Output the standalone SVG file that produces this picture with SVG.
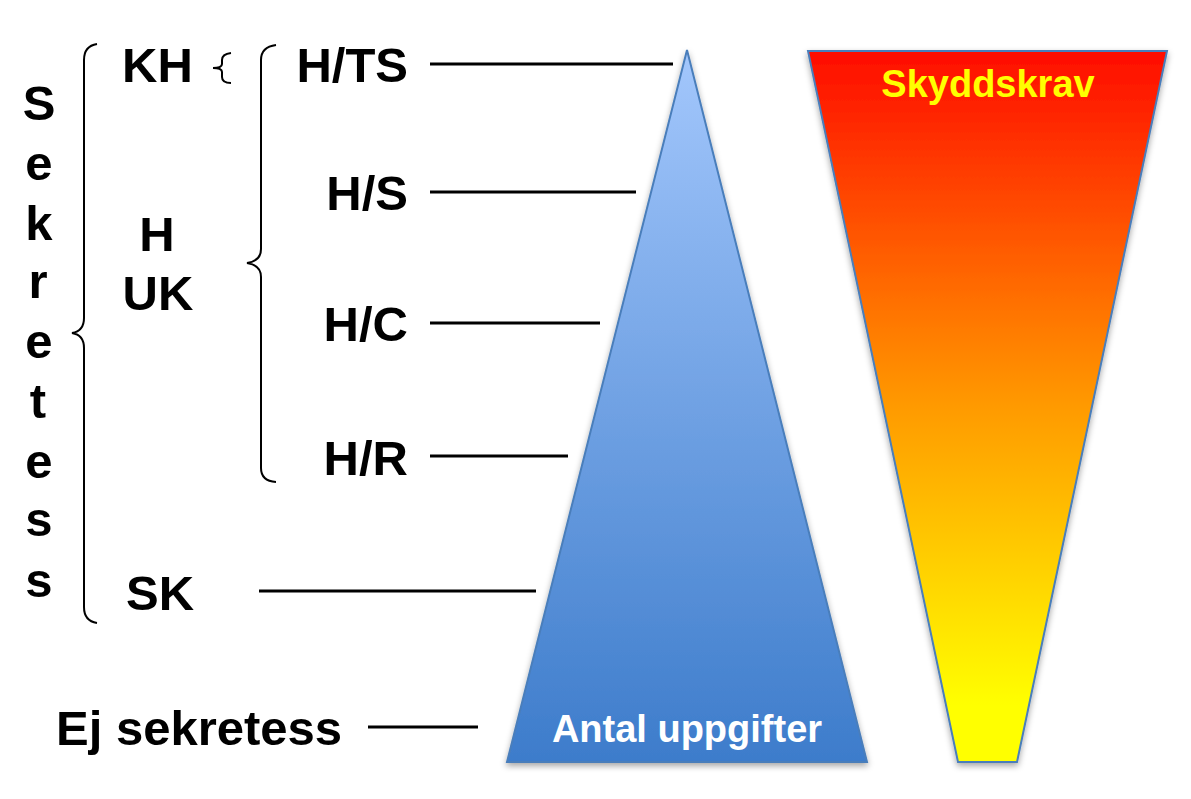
<svg xmlns="http://www.w3.org/2000/svg" width="1191" height="799" viewBox="0 0 1191 799">
<defs>
<linearGradient id="blueGrad" x1="0" y1="50" x2="0" y2="762" gradientUnits="userSpaceOnUse">
<stop offset="0" stop-color="#A3C7FC"/>
<stop offset="1" stop-color="#3D7CCB"/>
</linearGradient>
<linearGradient id="fireGrad" x1="0" y1="51" x2="0" y2="762" gradientUnits="userSpaceOnUse">
<stop offset="0" stop-color="#FF0C00"/>
<stop offset="0.5" stop-color="#FF9A00"/>
<stop offset="0.92" stop-color="#FFFF00"/>
<stop offset="1" stop-color="#FFFF00"/>
</linearGradient>
<filter id="shadow" x="-10%" y="-10%" width="120%" height="120%">
<feDropShadow dx="0" dy="3" stdDeviation="3" flood-color="#000" flood-opacity="0.35"/>
</filter>
</defs>
<style>
.lbl{font-family:"Liberation Sans",Arial,sans-serif;font-weight:bold;font-size:49px;fill:#000}
.v{text-anchor:middle}
.inner{font-family:"Liberation Sans",Arial,sans-serif;font-weight:bold;font-size:38px}
.lead{stroke:#000;stroke-width:3.2;fill:none}
.brace{stroke:#000;stroke-width:2;fill:none}
.shape{stroke:#4A7EBB;stroke-width:2;stroke-linejoin:miter}
</style>
<rect width="1191" height="799" fill="#fff"/>

<g id="pyramid">
<polygon class="shape" points="687,50 867,762 507,762" fill="url(#blueGrad)" filter="url(#shadow)"/>
<text class="inner" x="687" y="742" text-anchor="middle" fill="#fff">Antal uppgifter</text>
</g>

<g id="skyddskrav">
<polygon class="shape" points="808,51 1167,51 1017,762 958,762" fill="url(#fireGrad)" filter="url(#shadow)"/>
<text class="inner" x="988" y="97" text-anchor="middle" fill="#FFFF00">Skyddskrav</text>
</g>

<g id="sekretess">
<text class="lbl v" x="39" y="120">S</text>
<text class="lbl v" x="39" y="180">e</text>
<text class="lbl v" x="39" y="240">k</text>
<text class="lbl v" x="38" y="298">r</text>
<text class="lbl v" x="39" y="358">e</text>
<text class="lbl v" x="38" y="418">t</text>
<text class="lbl v" x="39" y="478">e</text>
<text class="lbl v" x="39" y="536">s</text>
<text class="lbl v" x="39" y="597">s</text>
</g>

<g id="brace-sekretess">
<path class="brace" d="M97,44 Q84,46 84,60 L84,318 Q84,331 72,333 Q84,335 84,348 L84,607 Q84,621 97,623"/>
</g>

<g id="kh">
<text class="lbl" x="122" y="82">KH</text>
<path class="brace" d="M231,53 Q222,54 222,60 L222,64 Q222,68 213,68 Q222,68 222,72 L222,77 Q222,83 231,83"/>
</g>

<g id="h-uk">
<text class="lbl" x="157" y="251" text-anchor="middle">H</text>
<text class="lbl" x="158" y="310" text-anchor="middle">UK</text>
</g>

<g id="brace-h">
<path class="brace" d="M276,45 Q261,47 261,60 L261,249 Q261,261 247,263 Q261,265 261,277 L261,468 Q261,481 276,482"/>
</g>

<g id="hts"><text class="lbl" x="408" y="82" text-anchor="end">H/TS</text></g>
<g id="hs"><text class="lbl" x="408" y="210" text-anchor="end">H/S</text></g>
<g id="hc"><text class="lbl" x="408" y="341" text-anchor="end">H/C</text></g>
<g id="hr"><text class="lbl" x="408" y="475" text-anchor="end">H/R</text></g>
<g id="sk"><text class="lbl" x="126" y="610">SK</text></g>
<g id="ej"><text class="lbl" x="56" y="745">Ej sekretess</text></g>

<g id="connectors">
<line class="lead" x1="430" y1="64" x2="673" y2="64"/>
<line class="lead" x1="430" y1="192" x2="636" y2="192"/>
<line class="lead" x1="430" y1="323" x2="600" y2="323"/>
<line class="lead" x1="430" y1="456" x2="568" y2="456"/>
<line class="lead" x1="259" y1="591" x2="536" y2="591"/>
<line class="lead" x1="368" y1="727" x2="478" y2="727"/>
</g>
</svg>
